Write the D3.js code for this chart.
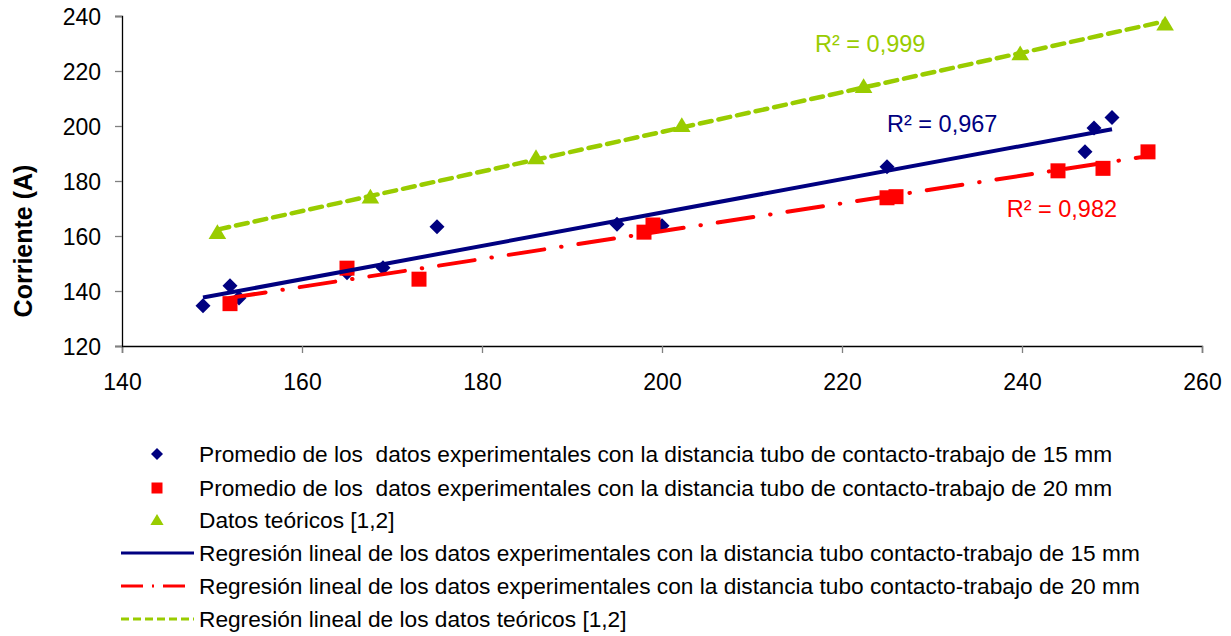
<!DOCTYPE html>
<html>
<head>
<meta charset="utf-8">
<script src="https://cdn.jsdelivr.net/npm/d3@7"></script>
<style>
  body { margin: 0; background: #fff; }
  text { font-family: "Liberation Sans", Arial, sans-serif; }
</style>
</head>
<body>
<div id="chart"></div>
<script>
// ---- data ----
const x15 = [149, 152, 153, 165, 169, 175, 195, 200, 225, 247, 248, 250];
const y15 = [134.6, 141.9, 137.5, 146.6, 148.5, 163.4, 164.3, 163.7, 185.2, 190.6, 199.3, 203.1];

const x20 = [152, 165, 173, 198, 199, 225, 226, 244, 249, 254];
const y20 = [135.4, 148.3, 144.3, 161.4, 164, 173.9, 174.3, 183.7, 184.6, 190.6];

const xTeo = [150.6, 167.6, 186, 202.2, 222.4, 239.8, 255.9];
const yTeo = [161.4, 174.3, 188.6, 200.3, 214.5, 226.4, 237.2];

const xTicks = [140, 160, 180, 200, 220, 240, 260];
const yTicks = [120, 140, 160, 180, 200, 220, 240];

const r2Labels = ["R² = 0,967", "R² = 0,982", "R² = 0,999"];
// where excel dropped the R² labels (data units)
const r2X = [225, 238.3, 217];
const r2Y = [197.9, 166.8, 226.9];

const legendLabels = [
    "Promedio de los  datos experimentales con la distancia tubo de contacto-trabajo de 15 mm",
    "Promedio de los  datos experimentales con la distancia tubo de contacto-trabajo de 20 mm",
    "Datos teóricos [1,2]",
    "Regresión lineal de los datos experimentales con la distancia tubo contacto-trabajo de 15 mm",
    "Regresión lineal de los datos experimentales con la distancia tubo contacto-trabajo de 20 mm",
    "Regresión lineal de los datos teóricos [1,2]"
];

const blue = "#000080", red = "#ff0000", green = "#99cc00";

const width = 1231, height = 636;
const margin = {left: 122, right: 29, top: 16, bottom: 290};

const svg = d3.select("#chart").append("svg")
    .attr("width", width)
    .attr("height", height);

const x = d3.scaleLinear().domain([140, 260]).range([margin.left, width - margin.right]);
const y = d3.scaleLinear().domain([120, 240]).range([height - margin.bottom, margin.top]);

// axes
const xAxis = svg.append("g")
    .attr("transform", `translate(0,${y(120)})`)
    .call(d3.axisBottom(x).tickValues(xTicks).tickSize(7).tickPadding(14));
const yAxis = svg.append("g")
    .attr("transform", `translate(${x(140)},0)`)
    .call(d3.axisLeft(y).tickValues(yTicks).tickSize(7).tickPadding(14));

[xAxis, yAxis].forEach(g => {
    g.select(".domain").attr("stroke", "#000").attr("stroke-width", 1.3);
    g.selectAll(".tick line").attr("stroke", "#808080").attr("stroke-width", 1.3);
    g.selectAll(".tick text")
        .attr("font-size", 23)
        .attr("fill", "#000")
        .style("font-family", "Liberation Sans, Arial, sans-serif");
});
yAxis.selectAll(".tick text").attr("dy", "0.35em");
xAxis.selectAll(".tick text").attr("dy", "1em");

svg.append("text")
    .attr("transform", `translate(32,${(y(120) + y(240)) / 2 + 60}) rotate(-90)`)
    .attr("text-anchor", "middle")
    .attr("font-size", 25)
    .attr("font-weight", "bold")
    .text("Corriente (A)");

// linear regression, same as the excel trend line
function linreg(xs, ys) {
    const mx = d3.mean(xs), my = d3.mean(ys);
    let sxy = 0, sxx = 0;
    xs.forEach((v, i) => { sxy += (v - mx) * (ys[i] - my); sxx += (v - mx) * (v - mx); });
    const b = sxy / sxx;
    const a = my - b * mx;
    const x0 = d3.min(xs), x1 = d3.max(xs);
    return [[x0, a + b * x0], [x1, a + b * x1]];
}

const line = d3.line().x(d => x(d[0])).y(d => y(d[1]));

// marker shapes
function diamond(r) { return `M0,${-r}L${r},0L0,${r}L${-r},0Z`; }
function square(r) { return `M${-r},${-r}H${r}V${r}H${-r}Z`; }
function triangle(r) { return `M0,${-r}L${r * 1.1},${r * 0.85}L${-r * 1.1},${r * 0.85}Z`; }

// points
const pts = svg.append("g");
pts.selectAll(".d15").data(x15.map((v, i) => [v, y15[i]])).join("path")
    .attr("d", diamond(7.5))
    .attr("transform", d => `translate(${x(d[0])},${y(d[1])})`)
    .attr("fill", blue);
pts.selectAll(".d20").data(x20.map((v, i) => [v, y20[i]])).join("path")
    .attr("d", square(7.5))
    .attr("transform", d => `translate(${x(d[0])},${y(d[1])})`)
    .attr("fill", red);
pts.selectAll(".dteo").data(xTeo.map((v, i) => [v, yTeo[i]])).join("path")
    .attr("d", triangle(8))
    .attr("transform", d => `translate(${x(d[0])},${y(d[1])})`)
    .attr("fill", green);

// trend lines on top of the markers
const trends = [
    {xs: x15, ys: y15, color: blue, dash: null, w: 4},
    {xs: x20, ys: y20, color: red, dash: "36,17,0.5,17", w: 4},
    {xs: xTeo, ys: yTeo, color: green, dash: "12,7", w: 4.5}
];
trends.forEach(t => {
    svg.append("path")
        .datum(linreg(t.xs, t.ys))
        .attr("d", line)
        .attr("fill", "none")
        .attr("stroke", t.color)
        .attr("stroke-width", t.w)
        .attr("stroke-linecap", t.dash ? "round" : "butt")
        .attr("stroke-dasharray", t.dash);
});

// R² labels
[blue, red, green].forEach((c, i) => {
    svg.append("text")
        .attr("x", x(r2X[i]))
        .attr("y", y(r2Y[i]))
        .attr("font-size", 23.5)
        .attr("fill", c)
        .text(r2Labels[i]);
});

// legend
const legendY = [454, 488, 520, 553, 586, 619];
const leg = svg.append("g");
legendLabels.forEach((lab, i) => {
    const cy = legendY[i];
    if (i === 0) leg.append("path").attr("d", diamond(6)).attr("transform", `translate(157,${cy})`).attr("fill", blue);
    if (i === 1) leg.append("path").attr("d", square(5.5)).attr("transform", `translate(157,${cy})`).attr("fill", red);
    if (i === 2) leg.append("path").attr("d", triangle(6)).attr("transform", `translate(157,${cy})`).attr("fill", green);
    if (i >= 3) {
        const t = trends[i - 3];
        leg.append("line")
            .attr("x1", 121).attr("x2", 194)
            .attr("y1", cy).attr("y2", cy)
            .attr("stroke", t.color)
            .attr("stroke-width", 3)
            .attr("stroke-dasharray", i === 4 ? "22,9,2,9" : (i === 5 ? "8,4" : null));
    }
    leg.append("text")
        .attr("x", 199)
        .attr("y", cy)
        .attr("dy", "0.35em")
        .attr("font-size", 22.7)
        .attr("xml:space", "preserve")
        .style("white-space", "pre")
        .text(lab);
});
</script>
</body>
</html>
